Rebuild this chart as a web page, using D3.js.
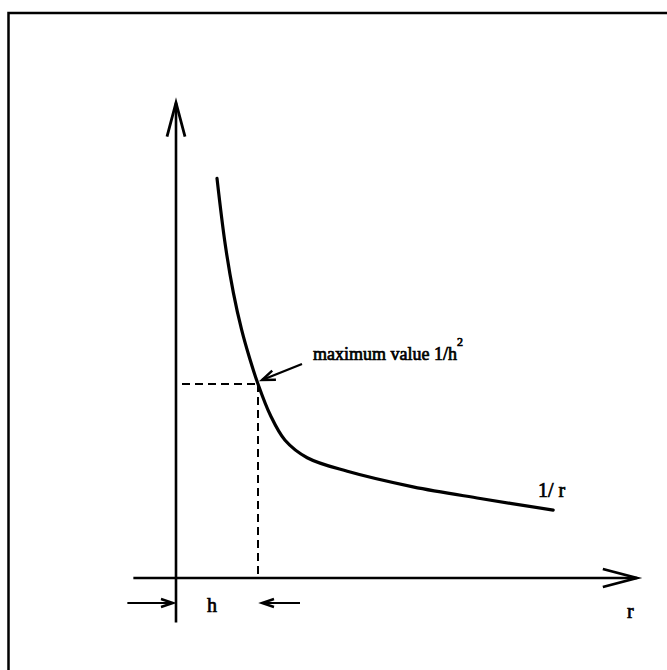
<!DOCTYPE html>
<html>
<head>
<meta charset="utf-8">
<script src="https://cdn.jsdelivr.net/npm/d3@7"></script>
<style>
  html, body { margin: 0; padding: 0; background: #fff; }
  svg { display: block; }
</style>
</head>
<body>
<div id="chart"></div>
<script>
// Curve samples: distance r (in units of h) and value (in units of 1/h^2)
const rValues = [0.50, 0.60, 0.70, 0.80, 0.90, 1.00, 1.15, 1.33, 1.60, 2.09, 2.89, 3.71, 4.60];
const curveValues = [2.06, 1.72, 1.47, 1.28, 1.13, 1.00, 0.84, 0.71, 0.62, 0.55, 0.47, 0.41, 0.35];
// Marked point: r = h, value = 1/h^2
const hMark = 1.0;
const maxValue = 1.0;
// Axis extents
const rDomain = [-0.52, 5.62];
const vDomain = [-0.23, 2.45];

const W = 667, H = 670;
const serif = "'Liberation Serif', 'Times New Roman', 'DejaVu Serif', serif";
const svg = d3.select("#chart").append("svg").attr("width", W).attr("height", H);

const x = d3.scaleLinear().domain([0, 1]).range([176, 258]);
const y = d3.scaleLinear().domain([0, 1]).range([578, 384]);

// frame
svg.append("rect")
  .attr("x", 8.5).attr("y", 13).attr("width", 700).attr("height", 700)
  .attr("fill", "none").attr("stroke", "#000").attr("stroke-width", 2.5);

const ink = "#000";

// y axis
svg.append("line")
  .attr("x1", x(0)).attr("x2", x(0))
  .attr("y1", y(vDomain[0])).attr("y2", y(vDomain[1]))
  .attr("stroke", ink).attr("stroke-width", 2.6);
svg.append("path")
  .attr("d", `M${x(0) - 9},${y(vDomain[1]) + 34} L${x(0)},${y(vDomain[1])} L${x(0) + 9},${y(vDomain[1]) + 34}`)
  .attr("fill", "none").attr("stroke", ink).attr("stroke-width", 2.8);

// x axis
svg.append("line")
  .attr("x1", x(rDomain[0])).attr("x2", x(rDomain[1]))
  .attr("y1", y(0)).attr("y2", y(0))
  .attr("stroke", ink).attr("stroke-width", 2.6);
svg.append("path")
  .attr("d", `M${x(rDomain[1]) - 34},${y(0) - 9} L${x(rDomain[1])},${y(0)} L${x(rDomain[1]) - 34},${y(0) + 9}`)
  .attr("fill", "none").attr("stroke", ink).attr("stroke-width", 2.8);

// dashed guides to the marked point
svg.append("line")
  .attr("x1", x(0) + 6).attr("x2", x(hMark))
  .attr("y1", y(maxValue)).attr("y2", y(maxValue))
  .attr("stroke", ink).attr("stroke-width", 2).attr("stroke-dasharray", "8,5");
svg.append("line")
  .attr("x1", x(hMark)).attr("x2", x(hMark))
  .attr("y1", y(maxValue)).attr("y2", y(0))
  .attr("stroke", ink).attr("stroke-width", 2).attr("stroke-dasharray", "8,5");

// 1/r curve
const pts = rValues.map((r, i) => [r, curveValues[i]]);
svg.append("path")
  .datum(pts)
  .attr("d", d3.line().x(d => x(d[0])).y(d => y(d[1])).curve(d3.curveCatmullRom.alpha(0.5)))
  .attr("fill", "none").attr("stroke", ink).attr("stroke-width", 3.2).attr("stroke-linecap", "round");

// small arrow helper
function arrow(x1, y1, x2, y2, len, half) {
  const a = Math.atan2(y2 - y1, x2 - x1);
  const bx = x2 - len * Math.cos(a), by = y2 - len * Math.sin(a);
  const px = -Math.sin(a) * half, py = Math.cos(a) * half;
  svg.append("line").attr("x1", x1).attr("y1", y1).attr("x2", x2).attr("y2", y2)
    .attr("stroke", ink).attr("stroke-width", 2.2);
  svg.append("path")
    .attr("d", `M${bx + px},${by + py} L${x2},${y2} L${bx - px},${by - py}`)
    .attr("fill", "none").attr("stroke", ink).attr("stroke-width", 2.4);
}

// pointer to the maximum
arrow(302, 364, x(hMark) + 4, y(maxValue) - 4, 13, 5);

function label(xp, yp, size) {
  return svg.append("text").attr("x", xp).attr("y", yp)
    .attr("font-family", serif).attr("font-size", size)
    .attr("fill", "#000").attr("stroke", "#000").attr("stroke-width", 0.7);
}

// label for the maximum
const lab = label(313, 360, 18);
lab.append("tspan").text("maximum value 1/h");
lab.append("tspan").attr("dy", -14).attr("font-size", 12).text("2");

// curve label
label(538, 497, 20).text("1/ r");

// h spacing markers
arrow(x(rDomain[0]) - 6, 603, x(0) - 3, 603, 12, 4);
arrow(x(hMark) + 42, 603, x(hMark) + 4, 603, 12, 4);
label(207, 612, 20).text("h");

// axis label
label(627, 618, 20).text("r");
</script>
</body>
</html>
